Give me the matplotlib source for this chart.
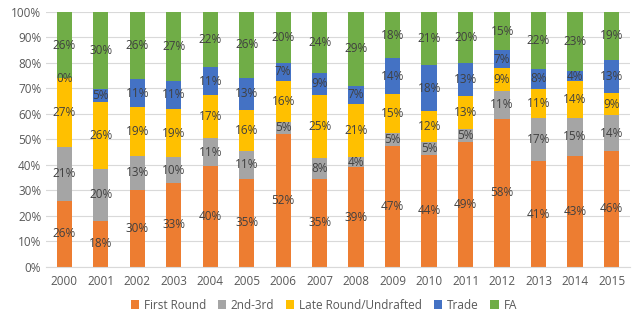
import numpy as np
import matplotlib
matplotlib.use('Agg')
import matplotlib.pyplot as plt

# ============================= Data ===============================
years = ['2000', '2001', '2002', '2003', '2004', '2005', '2006', '2007',
         '2008', '2009', '2010', '2011', '2012', '2013', '2014', '2015']

first_round = [26, 18, 30, 33, 40, 35, 52, 35, 39, 47, 44, 49, 58, 41, 43, 46]
second_third = [21, 20, 13, 10, 11, 11, 5, 8, 4, 5, 5, 5, 11, 17, 15, 14]
late_round = [27, 26, 19, 19, 17, 16, 16, 25, 21, 15, 12, 13, 9, 11, 14, 9]
trade = [0, 5, 11, 11, 11, 13, 7, 9, 7, 14, 18, 13, 7, 8, 4, 13]
fa = [26, 30, 26, 27, 22, 26, 20, 24, 29, 18, 21, 20, 15, 22, 23, 19]

series_names = ['First Round', '2nd-3rd', 'Late Round/Undrafted', 'Trade', 'FA']
colors = ['#ED7D31', '#A5A5A5', '#FFC000', '#4472C4', '#70AD47']

# ============================= Plot ===============================
plt.rcParams['font.family'] = ['Open Sans', 'DejaVu Sans']

fig = plt.figure(figsize=(6.4, 3.22), dpi=100)
ax = fig.add_axes([0.072, 0.171, 0.912, 0.792])

raw = np.array([first_round, second_third, late_round, trade, fa], dtype=float)
totals = raw.sum(axis=0)
shares = raw / totals  # 100% stacked
x = np.arange(len(years))
bottom = np.zeros(len(years))

for name, col, vals, share in zip(series_names, colors, raw, shares):
    ax.bar(x, share, 0.42, bottom=bottom, color=col, label=name, zorder=2)
    for i in range(len(years)):
        ax.text(x[i], bottom[i] + share[i] / 2, '%d%%' % vals[i],
                ha='center', va='center', fontsize=8.5, color='#404040', zorder=3)
    bottom += share

ax.set_xlim(-0.5, len(years) - 0.5)
ax.set_ylim(0, 1)
ax.set_xticks(x)
ax.set_xticklabels(years)
ax.set_yticks(np.arange(0, 1.01, 0.1))
ax.set_yticklabels(['%d%%' % v for v in range(0, 101, 10)])
ax.tick_params(length=0, labelsize=8.5, labelcolor='#595959')
ax.tick_params(axis='x', pad=6)
ax.grid(axis='y', color='#D9D9D9', linewidth=0.8, zorder=0)
for s in ['top', 'right', 'left']:
    ax.spines[s].set_visible(False)
ax.spines['bottom'].set_color('#D9D9D9')

fig.legend(loc='center', bbox_to_anchor=(0.506, 0.052), ncol=5, frameon=False,
           fontsize=8.5, handlelength=0.7, handleheight=0.7, handletextpad=0.4,
           columnspacing=1.0, labelcolor='#595959')

fig.savefig('out.png', dpi=100)
